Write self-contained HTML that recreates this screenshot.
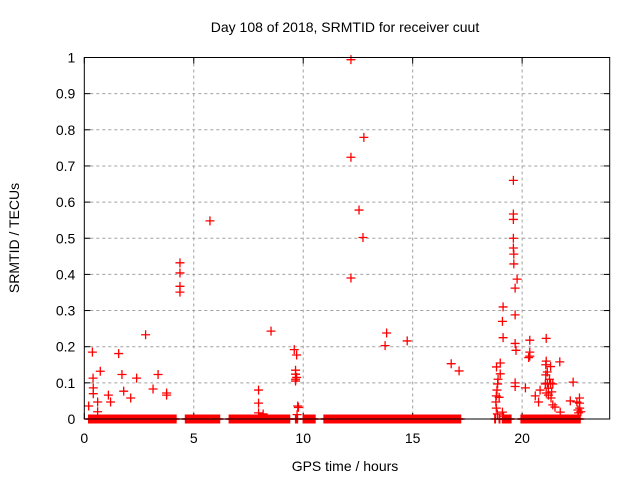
<!DOCTYPE html>
<html><head><meta charset="utf-8"><style>
html,body{margin:0;padding:0;background:#fff;}
svg{display:block;font-family:"Liberation Sans",sans-serif;}
</style></head><body>
<svg id="chart" width="640" height="480" viewBox="0 0 640 480">
<text x="345" y="32" text-anchor="middle" font-size="14">Day 108 of 2018, SRMTID for receiver cuut</text>
<text transform="translate(19,238) rotate(-90)" text-anchor="middle" font-size="14">SRMTID / TECUs</text>
<text x="345" y="471" text-anchor="middle" font-size="14">GPS time / hours</text>
<g id="grid"></g>
<g id="ticks"></g>
<g id="points"></g>
<rect x="84.3" y="57.5" width="525.4" height="361.5" fill="none" stroke="#000" stroke-width="1"/>
</svg>
<script>
const xTicks=[0,5,10,15,20];
const yTicks=[0,0.1,0.2,0.3,0.4,0.5,0.6,0.7,0.8,0.9,1];
const yTickLabels=["0","0.1","0.2","0.3","0.4","0.5","0.6","0.7","0.8","0.9","1"];
const times=[12.18,12.77,12.18,12.55,12.73,12.18,13.81,13.74,14.75,16.76,17.12,
5.74,4.37,4.37,4.37,4.37,2.80,8.53,0.37,1.57,9.59,9.70,
0.40,0.73,1.72,2.39,3.37,0.41,0.41,1.2,1.1,2.12,1.80,3.14,0.20,0.61,0.61,3.76,3.76,
7.96,7.96,7.96,8.17,9.65,9.65,9.65,9.65,9.70,9.75,9.78,9.72,
19.6,19.6,19.6,19.6,19.6,19.62,19.62,19.77,19.68,19.13,19.68,19.1,19.13,19.68,20.35,21.1,20.35,20.35,19.72,20.3,
18.83,19.0,18.9,18.88,18.85,18.82,18.8,18.82,18.87,19.1,19.15,19.68,19.68,20.15,
21.72,22.33,21.1,21.08,21.06,21.1,21.15,21.3,21.4,20.82,20.6,20.75,21.2,21.32,21.4,21.5,21.74,22.2,22.5,22.62,22.63,22.58,22.68,22.62,21.15,21.3,21.08,
19.0,18.95,21.2,21.25,21.35,22.55];
const values=[0.994,0.779,0.724,0.578,0.502,0.390,0.238,0.203,0.216,0.153,0.133,
0.548,0.432,0.404,0.367,0.351,0.233,0.243,0.185,0.181,0.192,0.177,
0.113,0.132,0.123,0.113,0.123,0.086,0.070,0.047,0.066,0.058,0.077,0.083,0.036,0.020,0.047,0.066,0.072,
0.080,0.044,0.017,0.014,0.124,0.135,0.110,0.105,0.115,0.036,0.032,0.012,
0.660,0.567,0.552,0.500,0.473,0.456,0.429,0.387,0.362,0.310,0.288,0.270,0.225,0.209,0.218,0.223,0.185,0.174,0.190,0.170,
0.144,0.155,0.110,0.097,0.080,0.064,0.047,0.030,0.014,0.019,0.008,0.090,0.100,0.086,
0.158,0.102,0.160,0.122,0.097,0.072,0.099,0.099,0.097,0.080,0.064,0.047,0.066,0.058,0.039,0.033,0.019,0.050,0.047,0.044,0.030,0.017,0.020,0.058,0.130,0.145,0.150,
0.125,0.060,0.085,0.110,0.075,0.025];
const zeroRuns=[[0.2,4.2],[4.62,6.2],[6.62,9.4],[9.65,9.75],[10.0,10.55],[10.95,17.2],[18.75,18.8],[18.95,19.0],[19.1,19.5],[19.95,22.65]];

const X0=84.3,X1=609.7,Y0=419,Y1=57.5,XMAX=24;
const xs=t=>X0+(X1-X0)*t/XMAX;
const ys=v=>Y0-(Y0-Y1)*v;
const NS="http://www.w3.org/2000/svg";
function mk(tag,attrs,parent){const e=document.createElementNS(NS,tag);for(const k in attrs)e.setAttribute(k,attrs[k]);parent.appendChild(e);return e;}
const grid=document.getElementById('grid'),ticks=document.getElementById('ticks'),pts=document.getElementById('points');
yTicks.forEach((v,i)=>{const y=ys(v);
 if(i>0&&i<yTicks.length-1){const g=mk('line',{x1:X0,x2:X1,y1:y,y2:y,stroke:'#a0a0a0','stroke-dasharray':'3,3'},grid);
 
 }
 mk('line',{x1:X0,x2:X0+6,y1:y,y2:y,stroke:'#000'},ticks);
 mk('line',{x1:X1-6,x2:X1,y1:y,y2:y,stroke:'#000'},ticks);
 const t=mk('text',{x:X0-9,y:y+5,'text-anchor':'end','font-size':'14'},ticks);t.textContent=yTickLabels[i];
 
 
});
xTicks.forEach(v=>{const x=xs(v);
 if(v>0){const g=mk('line',{x1:x,x2:x,y1:Y1,y2:Y0,stroke:'#a0a0a0','stroke-dasharray':'3,3'},grid);
 
 }
 mk('line',{x1:x,x2:x,y1:Y0,y2:Y0-6,stroke:'#000'},ticks);
 mk('line',{x1:x,x2:x,y1:Y1,y2:Y1+6,stroke:'#000'},ticks);
 const t=mk('text',{x:x,y:Y0+24,'text-anchor':'middle','font-size':'14'},ticks);t.textContent=String(v);
 
 
});
function cross(t,v){const x=xs(t),y=ys(v);
 const p=mk('path',{d:`M${x-4.5},${y}H${x+4.5}M${x},${y-4.5}V${y+4.5}`,stroke:'#f00','stroke-width':'1.3',fill:'none'},pts);
 
 }
zeroRuns.forEach(r=>{for(let t=r[0];t<=r[1]+1e-9;t+=0.03)cross(t,0);});
times.forEach((t,i)=>cross(t,values[i]));
</script>
</body></html>
